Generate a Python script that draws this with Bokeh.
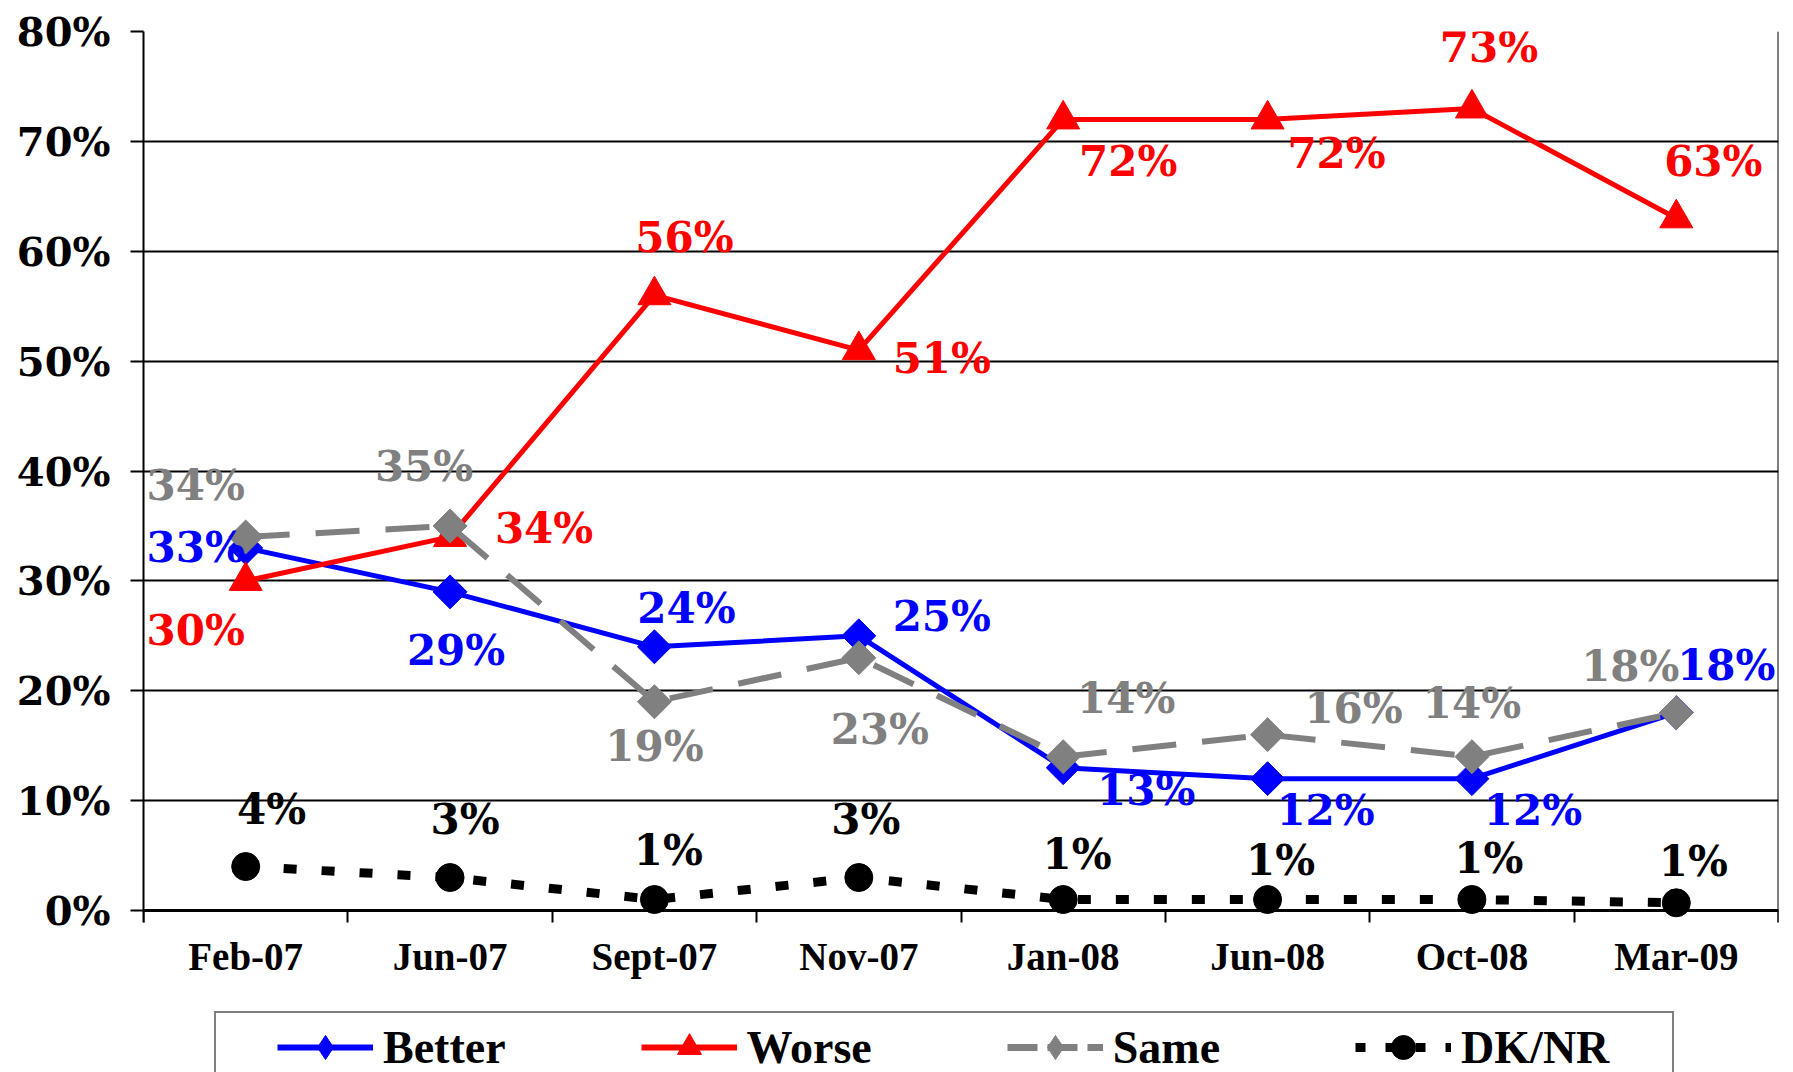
import math
from bokeh.plotting import figure
from bokeh.models import (Range1d, FixedTicker, CustomJSTickFormatter, ColumnDataSource,
                          Legend, LegendItem, LinearAxis)
from bokeh.core.properties import value
from bokeh.embed import file_html
from bokeh.resources import INLINE

# ---- data ----
categories = ["Feb-07", "Jun-07", "Sept-07", "Nov-07", "Jan-08", "Jun-08", "Oct-08", "Mar-09"]
better = [33, 29, 24, 25, 13, 12, 12, 18]
worse = [30, 34, 56, 51, 72, 72, 73, 63]
same = [34, 35, 19, 23, 14, 16, 14, 18]
dknr = [4, 3, 1, 3, 1, 1, 1, 0.7]
y_ticks = [0, 10, 20, 30, 40, 50, 60, 70, 80]

# ---- label placement (screen px offsets from each point) ----
better_off = [(-50, 0), (6, 59), (32, -38), (83, -19), (83, 23), (58, 32), (61, 32), (50, -47)]
worse_off = [(-50, 50), (94, -8), (30, -58), (83, 8), (65, 42), (69, 34), (17, -61), (37, -57)]
same_off = [(-50, -51), (-26, -59), (0, 45), (21, 72), (63, -58), (86, -26), (0, -53), (-46, -46)]
dknr_off = [(26, -57), (15, -58), (14, -49), (7, -58), (14, -45), (13, -39), (17, -41), (17, -41)]

xs = [i + 0.5 for i in range(len(categories))]

# layout: plot area 879 px tall for 0..80; extra space below 0 holds axis labels and legend
W, H = 1793, 1072
TOP, LEFT, RIGHT = 31, 143, 15
PX_PER_UNIT = 879 / 80
Y_LOW = -(H - TOP - 879) / PX_PER_UNIT

p = figure(width=W, height=H, output_backend="svg", toolbar_location=None,
           x_range=Range1d(0, len(categories)), y_range=Range1d(Y_LOW, 80),
           x_axis_location=None, y_axis_location=None,
           min_border_left=LEFT, min_border_right=RIGHT, min_border_top=TOP, min_border_bottom=0)
p.outline_line_color = None
p.background_fill_color = "white"
p.border_fill_color = "white"

# x axis: labels at category centres, ticks at category boundaries, sitting at y=0
xa = LinearAxis(fixed_location=0)
xa.ticker = FixedTicker(ticks=xs, minor_ticks=list(range(len(categories) + 1)))
xa.formatter = CustomJSTickFormatter(args=dict(labels=categories),
                                     code="return labels[Math.round(tick - 0.5)] || '';")
xa.major_tick_line_color = None
xa.major_tick_out = 0
xa.major_tick_in = 0
xa.minor_tick_line_color = "black"
xa.minor_tick_line_width = 2
xa.minor_tick_out = 12
xa.minor_tick_in = 0
xa.axis_line_color = "black"
xa.axis_line_width = 3
xa.major_label_standoff = 12
xa.major_label_text_font = "Liberation Serif"
xa.major_label_text_font_style = "bold"
xa.major_label_text_font_size = "39px"
xa.major_label_text_color = "black"
p.add_layout(xa, "below")

ya = LinearAxis(bounds=(-1.1, 80))
ya.ticker = FixedTicker(ticks=y_ticks)
ya.formatter = CustomJSTickFormatter(code="return tick + '%';")
ya.major_tick_out = 13
ya.major_tick_in = 0
ya.major_tick_line_color = "black"
ya.major_tick_line_width = 2
ya.minor_tick_line_color = None
ya.axis_line_color = "black"
ya.axis_line_width = 2
ya.major_label_standoff = 20
ya.major_label_text_font = "DejaVu Serif"
ya.major_label_text_font_style = "bold"
ya.major_label_text_font_size = "40px"
ya.major_label_text_color = "black"
p.add_layout(ya, "left")

# right border of the plot area
yr = LinearAxis(bounds=(-1.1, 80), fixed_location=len(categories))
yr.ticker = FixedTicker(ticks=[])
yr.major_tick_line_color = None
yr.minor_tick_line_color = None
yr.major_label_text_font_size = "0px"
yr.axis_line_color = "black"
yr.axis_line_width = 2
p.add_layout(yr, "right")

p.ygrid.ticker = FixedTicker(ticks=y_ticks)
p.ygrid.grid_line_color = "black"
p.ygrid.grid_line_width = 2
p.xgrid.grid_line_color = None

BLUE, RED, GREY, BLACK = "#0000FF", "#FF0000", "#808080", "#000000"
DIAMOND = math.pi / 4

# series (draw order: Better, Worse, Same, DK/NR)
p.line(xs, better, line_color=BLUE, line_width=5)
p.scatter(xs, better, marker="square", angle=DIAMOND, size=24, fill_color=BLUE, line_color=BLUE)
p.line(xs, worse, line_color=RED, line_width=5)
p.scatter(xs, worse, marker="triangle", size=33, fill_color=RED, line_color=RED)
p.line(xs, same, line_color=GREY, line_width=6, line_dash="44 26")
p.scatter(xs, same, marker="square", angle=DIAMOND, size=24, fill_color=GREY, line_color=GREY)
p.line(xs, dknr, line_color=BLACK, line_width=9, line_dash="13 25")
p.scatter(xs, dknr, marker="circle", size=28, fill_color=BLACK, line_color=BLACK)

def add_labels(vals, offs, color):
    src = ColumnDataSource(dict(
        x=xs, y=vals,
        t=[f"{round(v)}%" for v in vals],
        dx=[o[0] for o in offs], dy=[o[1] for o in offs]))
    p.text(x="x", y="y", text="t", x_offset="dx", y_offset="dy", source=src,
           text_align="center", text_baseline="middle", text_color=color,
           text_font=value("DejaVu Serif"), text_font_style="bold", text_font_size="42px")

add_labels(better, better_off, BLUE)
add_labels(worse, worse_off, RED)
add_labels(same, same_off, GREY)
add_labels(dknr, dknr_off, BLACK)

# hidden legend-only proxies (same data, not shown on the plot) so legend shows diamond markers
def proxy(vals, color, width, dash, marker):
    ln = p.line(xs, vals, line_color=color, line_width=width, line_dash=dash, visible=False)
    mk = p.scatter(xs, vals, marker=marker, fill_color=color, line_color=color, visible=False)
    return [ln, mk]

r_better = proxy(better, BLUE, 6, "solid", "diamond")
r_worse = proxy(worse, RED, 6, "solid", "triangle")
r_same = proxy(same, GREY, 7, "30 10", "diamond")
r_dknr = proxy(dknr, BLACK, 9, "10 20", "circle")
r_blank = p.line(xs, dknr, line_alpha=0)

FONT_PX = "46px"
LEG_Y = -5

# legend frame (wide box behind the items)
frame_leg = Legend(items=[LegendItem(label=" ", renderers=[r_blank])],
                   orientation="horizontal", location=(71, LEG_Y))
frame_leg.border_line_color = "black"
frame_leg.border_line_width = 2
frame_leg.background_fill_color = "white"
frame_leg.background_fill_alpha = 1
frame_leg.padding = 1
frame_leg.margin = 0
frame_leg.glyph_width = 10
frame_leg.glyph_height = 60
frame_leg.label_standoff = 0
frame_leg.label_width = 1444
frame_leg.label_text_font = "Liberation Serif"
frame_leg.label_text_font_style = "bold"
frame_leg.label_text_font_size = FONT_PX
p.add_layout(frame_leg, "center")

legend = Legend(items=[
    LegendItem(label="Better", renderers=r_better),
    LegendItem(label="Worse", renderers=r_worse),
    LegendItem(label="Same", renderers=r_same),
    LegendItem(label="DK/NR", renderers=r_dknr),
], orientation="horizontal", location=(134, LEG_Y))
legend.border_line_color = None
legend.background_fill_alpha = 0
legend.inactive_fill_alpha = 0
legend.padding = 1
legend.margin = 0
legend.spacing = 135
legend.glyph_width = 96
legend.glyph_height = 60
legend.label_standoff = 10
legend.label_text_font = "Liberation Serif"
legend.label_text_font_style = "bold"
legend.label_text_font_size = FONT_PX
legend.label_text_color = "black"
p.add_layout(legend, "center")

open("out.html", "w").write(file_html(p, INLINE))
